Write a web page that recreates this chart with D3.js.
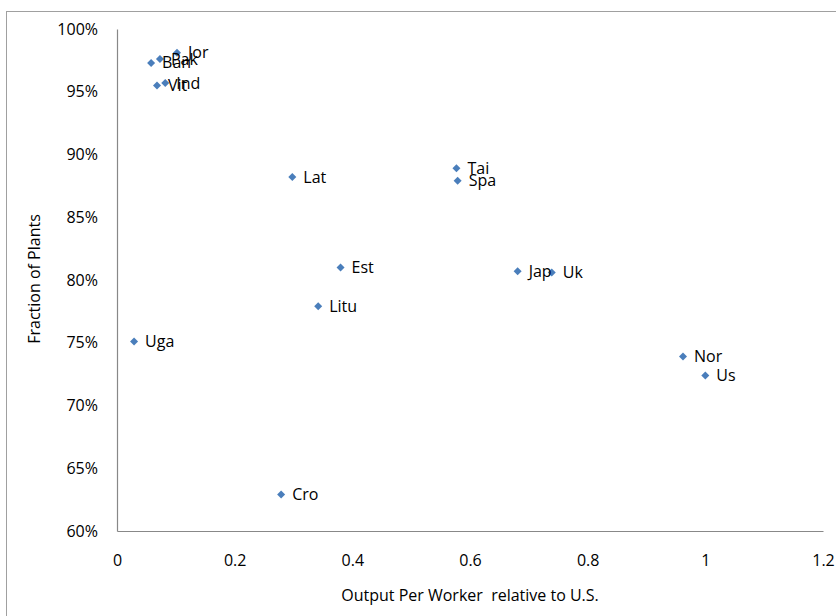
<!DOCTYPE html>
<html>
<head>
<meta charset="utf-8">
<script src="https://cdn.jsdelivr.net/npm/d3@7"></script>
<style>
  body { margin: 0; background: #fff; }
  svg { font-family: "Open Sans", Lato, sans-serif; }
</style>
</head>
<body>
<svg id="chart" width="836" height="616"></svg>
<script>
// country labels, output per worker (relative to U.S.), fraction of plants (%)
const countries = ['Jor', 'Pak', 'Ban', 'Vit', 'Ind', 'Lat', 'Tai', 'Spa', 'Est', 'Litu', 'Jap', 'Uk', 'Uga', 'Nor', 'Us', 'Cro'];
const output = [0.102, 0.073, 0.058, 0.068, 0.082, 0.298, 0.577, 0.579, 0.380, 0.342, 0.681, 0.739, 0.029, 0.962, 1.0, 0.279];
const plants = [98.1, 97.6, 97.3, 95.5, 95.7, 88.2, 88.9, 87.9, 81.0, 77.9, 80.7, 80.6, 75.1, 73.9, 72.4, 62.9];
const xTicks = [0, 0.2, 0.4, 0.6, 0.8, 1, 1.2];
const yTicks = [60, 65, 70, 75, 80, 85, 90, 95, 100];

const svg = d3.select('#chart');
const margin = { top: 29, left: 117, bottom: 85, right: 13 };
const width = 836 - margin.left - margin.right;
const height = 616 - margin.top - margin.bottom;

// outer chart border
svg.append('rect')
    .attr('x', 6.5).attr('y', 11.5)
    .attr('width', 840).attr('height', 620)
    .attr('fill', 'none')
    .attr('stroke', '#a0a0a0');

const g = svg.append('g')
    .attr('transform', `translate(${margin.left}, ${margin.top})`);

const x = d3.scaleLinear().domain([0, 1.2]).range([0, width]);
const y = d3.scaleLinear().domain([60, 100]).range([height, 0]);

const xAxis = g.append('g')
    .attr('transform', `translate(0, ${height})`)
    .call(d3.axisBottom(x).tickValues(xTicks).tickSize(0).tickPadding(24)
        .tickFormat(d => String(d)));
const yAxis = g.append('g')
    .call(d3.axisLeft(y).tickValues(yTicks).tickSize(0).tickPadding(19)
        .tickFormat(d => d + '%'));

[xAxis, yAxis].forEach(a => {
    a.select('.domain').attr('stroke', '#888').attr('stroke-width', 1.2);
    a.selectAll('text').attr('font-size', 16).attr('fill', '#000')
        .attr('font-family', '"Open Sans", Lato, sans-serif');
});

const data = countries.map((c, i) => ({ name: c, x: output[i], y: plants[i] }));

const diamond = d3.symbol().type(d3.symbolSquare).size(32);

g.selectAll('path.pt')
    .data(data)
    .enter()
    .append('path')
    .attr('class', 'pt')
    .attr('d', diamond)
    .attr('transform', d => `translate(${x(d.x)}, ${y(d.y)}) rotate(45)`)
    .attr('fill', '#4a7ebb');

g.selectAll('text.lbl')
    .data(data)
    .enter()
    .append('text')
    .attr('class', 'lbl')
    .attr('x', d => x(d.x) + 11)
    .attr('y', d => y(d.y))
    .attr('dy', '0.35em')
    .attr('font-size', 16)
    .attr('fill', '#000')
    .text(d => d.name);

svg.append('text')
    .attr('x', 470)
    .attr('y', 601)
    .attr('text-anchor', 'middle')
    .attr('font-size', 16)
    .attr('xml:space', 'preserve')
    .style('white-space', 'pre')
    .text('Output Per Worker  relative to U.S.');

svg.append('text')
    .attr('transform', 'translate(40, 279) rotate(-90)')
    .attr('text-anchor', 'middle')
    .attr('font-size', 16)
    .text('Fraction of Plants');
</script>
</body>
</html>
